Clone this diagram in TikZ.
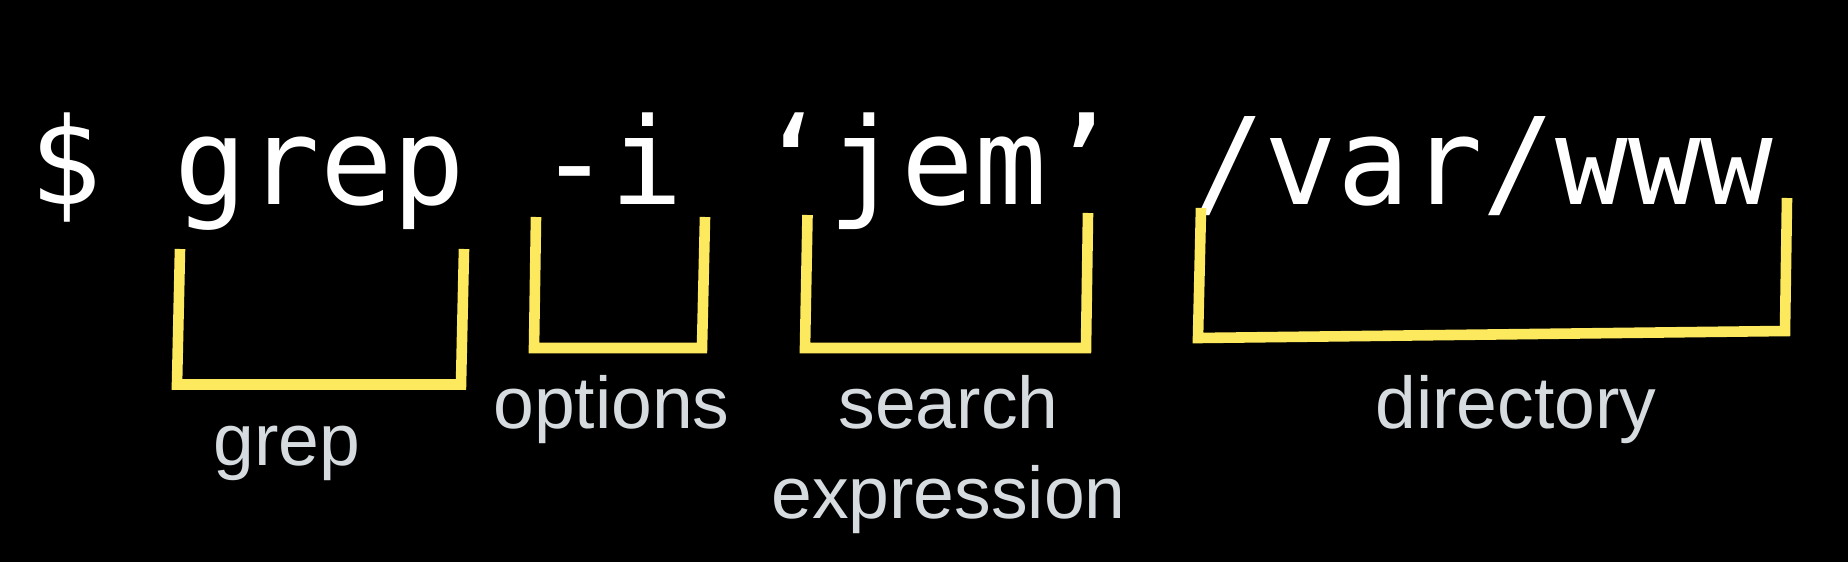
\documentclass[tikz,border=0pt]{standalone}
\usepackage{fontspec}
\setmainfont{Liberation Sans}
\newfontfamily\cmdfont{DejaVu Sans Mono}
\definecolor{bracketyellow}{HTML}{FDE95D}
\definecolor{labelgray}{HTML}{D5DBDE}
\tikzset{
  bracket/.style={draw=bracketyellow, line width=5.3pt, line join=miter, line cap=butt},
  cmdtext/.style={text=white, inner sep=0pt, font=\cmdfont\fontsize{60.35pt}{72pt}\selectfont},
  lbl/.style={text=labelgray, inner sep=0pt, align=center, font=\fontsize{36.65pt}{45pt}\selectfont}
}
\begin{document}
\begin{tikzpicture}[x=0.5pt,y=-0.5pt]
\fill[black] (0,0) rectangle (1848,562);
\useasboundingbox (0,0) rectangle (1848,562);
% command line
\node[cmdtext, anchor=base east] (cmd) at (1774,204) {\$ grep -i ‘jem’ /var/www};
% bracket corners
\coordinate (g1) at (180,249);  \coordinate (g2) at (177,384.5);
\coordinate (g3) at (461,384.5); \coordinate (g4) at (464,249);
\coordinate (o1) at (536,217);  \coordinate (o2) at (534,348);
\coordinate (o3) at (702,348);  \coordinate (o4) at (705,217);
\coordinate (s1) at (807.5,215); \coordinate (s2) at (805,348);
\coordinate (s3) at (1086,348); \coordinate (s4) at (1088,213);
\coordinate (d1) at (1201,208); \coordinate (d2) at (1198,338);
\coordinate (d3) at (1785,331); \coordinate (d4) at (1787,198);
\draw[bracket] (g1) -- (g2) -- (g3) -- (g4);
\draw[bracket] (o1) -- (o2) -- (o3) -- (o4);
\draw[bracket] (s1) -- (s2) -- (s3) -- (s4);
\draw[bracket] (d1) -- (d2) -- (d3) -- (d4);
% labels
\node[lbl, anchor=base] (lgrep) at (287,465) {grep};
\node[lbl, anchor=base] (lopt) at (611.5,428) {options};
\node[lbl, anchor=base] (lsearch) at (948.5,518) {search\\expression};
\node[lbl, anchor=base] (ldir) at (1516,428) {directory};
\end{tikzpicture}
\end{document}
